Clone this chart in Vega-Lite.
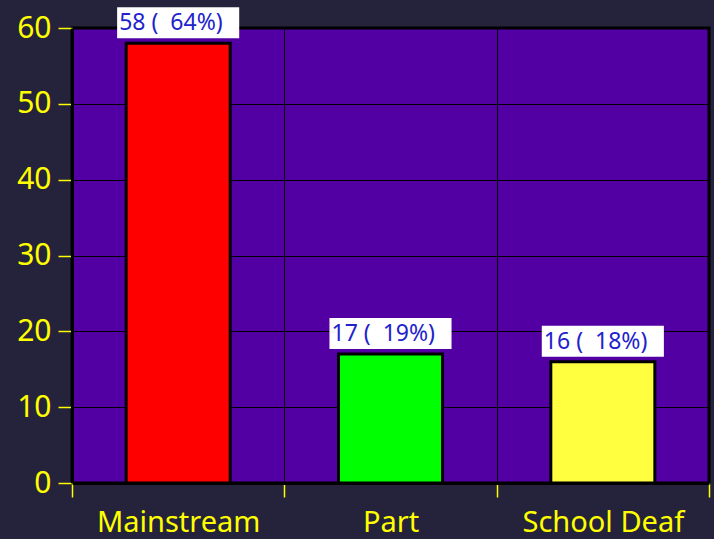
{
  "$schema": "https://vega.github.io/schema/vega-lite/v6.json",
  "width": 637,
  "height": 455,
  "autosize": "none",
  "padding": {"left": 72, "top": 28, "right": 5, "bottom": 56},
  "background": "#24233b",
  "config": {
    "view": {"fill": "#5200a3", "stroke": "#000000", "strokeWidth": 3},
    "font": "Noto Sans"
  },
  "data": {
    "values": [
      {"cat": "Mainstream", "value": 58, "label": "58 (\u00a0\u00a064%)"},
      {"cat": "Part", "value": 17, "label": "17 (\u00a0\u00a019%)"},
      {"cat": "School Deaf", "value": 16, "label": "16 (\u00a0\u00a018%)"}
    ]
  },
  "encoding": {
    "x": {
      "field": "cat",
      "type": "nominal",
      "sort": null,
      "scale": {"paddingInner": 0, "paddingOuter": 0},
      "axis": {
        "title": null,
        "labelAngle": 0,
        "tickBand": "extent",
        "grid": true,
        "gridColor": "#000000",
        "gridWidth": 1,
        "gridOpacity": 1,
        "domainColor": "#000000",
        "domainWidth": 3,
        "tickColor": "#ffff00",
        "tickSize": 14,
        "tickWidth": 1.5,
        "labelColor": "#ffff00",
        "labelFontSize": 29,
        "labelPadding": 11,
        "labelFont": "Noto Sans"
      }
    }
  },
  "layer": [
    {
      "mark": {"type": "bar", "width": {"band": 0.49}, "stroke": "#000000", "strokeWidth": 3},
      "encoding": {
        "y": {
          "field": "value",
          "type": "quantitative",
          "scale": {"domain": [0, 60], "nice": false},
          "axis": {
            "title": null,
            "values": [0, 10, 20, 30, 40, 50, 60],
            "grid": true,
            "gridColor": "#000000",
            "gridWidth": 1,
            "gridOpacity": 1,
            "domainColor": "#000000",
            "domainWidth": 3,
            "tickColor": "#ffff00",
            "tickSize": 14,
            "tickWidth": 1.5,
            "labelColor": "#ffff00",
            "labelFontSize": 30,
            "labelPadding": 7,
            "labelFont": "Noto Sans"
          }
        },
        "color": {
          "field": "cat",
          "type": "nominal",
          "scale": {"domain": ["Mainstream", "Part", "School Deaf"], "range": ["#ff0000", "#00ff00", "#ffff40"]},
          "legend": null
        }
      }
    },
    {
      "mark": {"type": "bar", "width": {"band": 0.575}, "color": "#ffffff", "yOffset": -5, "y2Offset": -36},
      "encoding": {
        "y": {"field": "value", "type": "quantitative"},
        "y2": {"field": "value"}
      }
    },
    {
      "mark": {"type": "text", "align": "left", "baseline": "middle", "dx": -59, "dy": -20, "fontSize": 23, "color": "#2222cc", "font": "Noto Sans"},
      "encoding": {
        "y": {"field": "value", "type": "quantitative"},
        "text": {"field": "label"}
      }
    }
  ]
}
